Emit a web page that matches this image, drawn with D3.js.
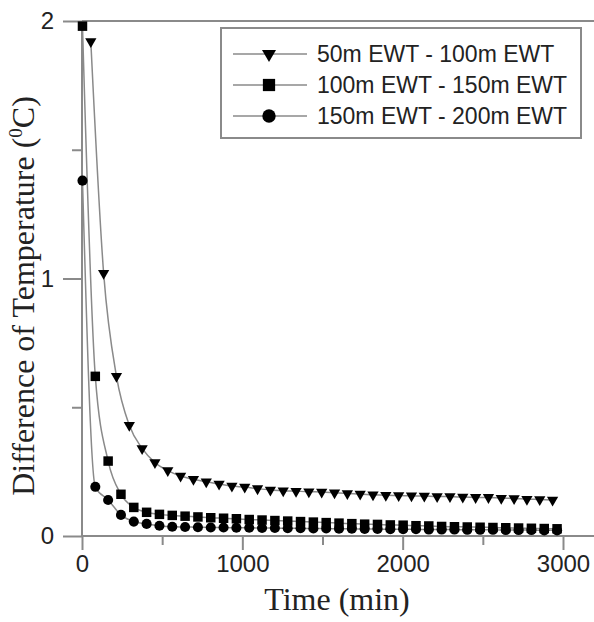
<!DOCTYPE html>
<meta charset="utf-8">
<html>
<head>
<script src="https://d3js.org/d3.v7.min.js"></script>
<style>
  html, body { margin: 0; padding: 0; background: #fff; }
  svg { display: block; }
  .tick-label { font-family: "Liberation Sans", Arial, sans-serif; font-size: 24px; fill: #222; }
  .axis-title { font-family: "Liberation Serif", "Times New Roman", serif; font-size: 32px; fill: #222; }
  .legend-text { font-family: "Liberation Sans", Arial, sans-serif; font-size: 23px; fill: #222; }
</style>
</head>
<body>
<div id="chart"></div>
<script>

// times (min) and values
var timesTri = [55, 135, 215, 295, 375, 455, 535, 615, 695, 775, 855, 935, 1015, 1095, 1175, 1255, 1335, 1415, 1495, 1575, 1655, 1735, 1815, 1895, 1975, 2055, 2135, 2215, 2295, 2375, 2455, 2535, 2615, 2695, 2775, 2855, 2935];
var diff50_100 = [1.92, 1.02, 0.62, 0.43, 0.34, 0.285, 0.254, 0.233, 0.220, 0.211, 0.202, 0.194, 0.190, 0.184, 0.179, 0.176, 0.174, 0.172, 0.171, 0.168, 0.165, 0.163, 0.160, 0.158, 0.157, 0.156, 0.155, 0.153, 0.153, 0.151, 0.150, 0.150, 0.147, 0.146, 0.143, 0.142, 0.140];

var timesSq = [3, 83, 163, 243, 323, 403, 483, 563, 643, 723, 803, 883, 963, 1043, 1123, 1203, 1283, 1363, 1443, 1523, 1603, 1683, 1763, 1843, 1923, 2003, 2083, 2163, 2243, 2323, 2403, 2483, 2563, 2643, 2723, 2803, 2883, 2963];
var diff100_150 = [1.98, 0.62, 0.291, 0.162, 0.111, 0.092, 0.084, 0.080, 0.077, 0.074, 0.071, 0.069, 0.067, 0.064, 0.062, 0.060, 0.058, 0.056, 0.054, 0.052, 0.050, 0.048, 0.046, 0.045, 0.043, 0.042, 0.040, 0.039, 0.037, 0.036, 0.035, 0.034, 0.033, 0.032, 0.031, 0.030, 0.029, 0.028];
var diff150_200 = [1.38, 0.191, 0.140, 0.082, 0.056, 0.047, 0.040, 0.036, 0.035, 0.034, 0.033, 0.033, 0.032, 0.032, 0.031, 0.031, 0.030, 0.030, 0.029, 0.029, 0.028, 0.028, 0.027, 0.027, 0.026, 0.026, 0.026, 0.025, 0.025, 0.025, 0.024, 0.024, 0.024, 0.023, 0.023, 0.023, 0.022, 0.022];

var seriesNames = ["50m EWT - 100m EWT", "100m EWT - 150m EWT", "150m EWT - 200m EWT"];
var xMajor = [0, 1000, 2000, 3000], xMinor = [500, 1500, 2500];
var yMajor = [0, 1, 2], yMinor = [0.5, 1.5];

var W = 594, H = 622;
var gray = "#8a8a8a";

var svg = d3.select("#chart").append("svg")
    .attr("width", W)
    .attr("height", H);

var x = d3.scaleLinear().domain([0, 3000]).range([82, 563]);
var y = d3.scaleLinear().domain([0, 2]).range([536, 21]);

// axes: major/minor ticks with different lengths
var xAxisMajor = d3.axisBottom(x).tickValues(xMajor).tickSize(14).tickPadding(6).tickFormat(d3.format("d"));
var xAxisMinor = d3.axisBottom(x).tickValues(xMinor).tickSize(9).tickFormat("");
var yAxisMajor = d3.axisLeft(y).tickValues(yMajor).tickSize(19).tickPadding(9).tickFormat(d3.format("d"));
var yAxisMinor = d3.axisLeft(y).tickValues(yMinor).tickSize(10).tickFormat("");

function styleAxis(g) {
  g.select(".domain").remove();
  g.selectAll(".tick line").attr("stroke", gray).attr("stroke-width", 2);
  g.selectAll(".tick text").attr("class", "tick-label").attr("font-family", null).attr("font-size", null).attr("fill", null);
}

var gx = svg.append("g").attr("transform", "translate(0," + y(0) + ")").call(xAxisMajor).call(styleAxis);
svg.append("g").attr("transform", "translate(0," + y(0) + ")").call(xAxisMinor).call(styleAxis);
svg.append("g").attr("transform", "translate(" + x(0) + ",0)").call(yAxisMajor).call(styleAxis);
svg.append("g").attr("transform", "translate(" + x(0) + ",0)").call(yAxisMinor).call(styleAxis);

gx.selectAll(".tick text").attr("dy", null).attr("y", 36);

// axis lines + top frame line
svg.append("line").attr("x1", x(0)).attr("x2", W).attr("y1", y(0)).attr("y2", y(0))
    .attr("stroke", gray).attr("stroke-width", 2);
svg.append("line").attr("x1", x(0)).attr("x2", W).attr("y1", y(2)).attr("y2", y(2))
    .attr("stroke", gray).attr("stroke-width", 2);
svg.append("line").attr("x1", x(0)).attr("x2", x(0)).attr("y1", y(2)).attr("y2", y(0))
    .attr("stroke", gray).attr("stroke-width", 2);

// titles
svg.append("text").attr("class", "axis-title")
    .attr("x", 337).attr("y", 610).attr("text-anchor", "middle")
    .text("Time (min)");

var yt = svg.append("text").attr("class", "axis-title")
    .attr("transform", "translate(34,296) rotate(-90)")
    .attr("text-anchor", "middle");
yt.append("tspan").text("Difference of  Temperature (");
yt.append("tspan").attr("font-size", "19px").attr("dy", -12).text("0");
yt.append("tspan").attr("dy", 12).text("C)");

// series
var series = [
  { name: seriesNames[0], t: timesTri, v: diff50_100, shape: "tri" },
  { name: seriesNames[1], t: timesSq, v: diff100_150, shape: "sq" },
  { name: seriesNames[2], t: timesSq, v: diff150_200, shape: "cir" }
];

var line = d3.line()
    .x(function(d) { return x(d[0]); })
    .y(function(d) { return y(d[1]); })
    .curve(d3.curveMonotoneX);

function symbolFor(shape, big) {
  if (shape === "tri") return d3.symbol().type(d3.symbolTriangle).size(big ? 85 : 55);
  if (shape === "sq") return d3.symbol().type(d3.symbolSquare).size(big ? 150 : 90);
  return d3.symbol().type(d3.symbolCircle).size(big ? 140 : 80);
}

series.forEach(function(s) {
  var pts = s.t.map(function(t, i) { return [t, s.v[i]]; });
  svg.append("path")
      .datum(pts)
      .attr("fill", "none")
      .attr("stroke", gray)
      .attr("stroke-width", 1.5)
      .attr("d", line);
});

series.forEach(function(s) {
  var pts = s.t.map(function(t, i) { return [t, s.v[i]]; });
  var sym = symbolFor(s.shape, false);
  svg.append("g").selectAll("path")
      .data(pts)
      .enter().append("path")
      .attr("d", sym)
      .attr("fill", "#000")
      .attr("transform", function(d) {
        return "translate(" + x(d[0]) + "," + y(d[1]) + ")" + (s.shape === "tri" ? " rotate(180)" : "");
      });
});

// legend
var lg = svg.append("g");
lg.append("rect").attr("x", 221).attr("y", 28).attr("width", 360).attr("height", 110)
    .attr("fill", "#fff").attr("stroke", gray).attr("stroke-width", 2);
var rowY = [54, 85, 116];
series.forEach(function(s, i) {
  lg.append("line").attr("x1", 233).attr("x2", 307).attr("y1", rowY[i]).attr("y2", rowY[i])
      .attr("stroke", gray).attr("stroke-width", 1.5);
  lg.append("path").attr("d", symbolFor(s.shape, true)).attr("fill", "#000")
      .attr("transform", "translate(269," + rowY[i] + ")" + (s.shape === "tri" ? " rotate(180)" : ""));
  lg.append("text").attr("class", "legend-text")
      .attr("x", 317).attr("y", rowY[i] + 8)
      .text(s.name);
});

</script>
</body>
</html>
